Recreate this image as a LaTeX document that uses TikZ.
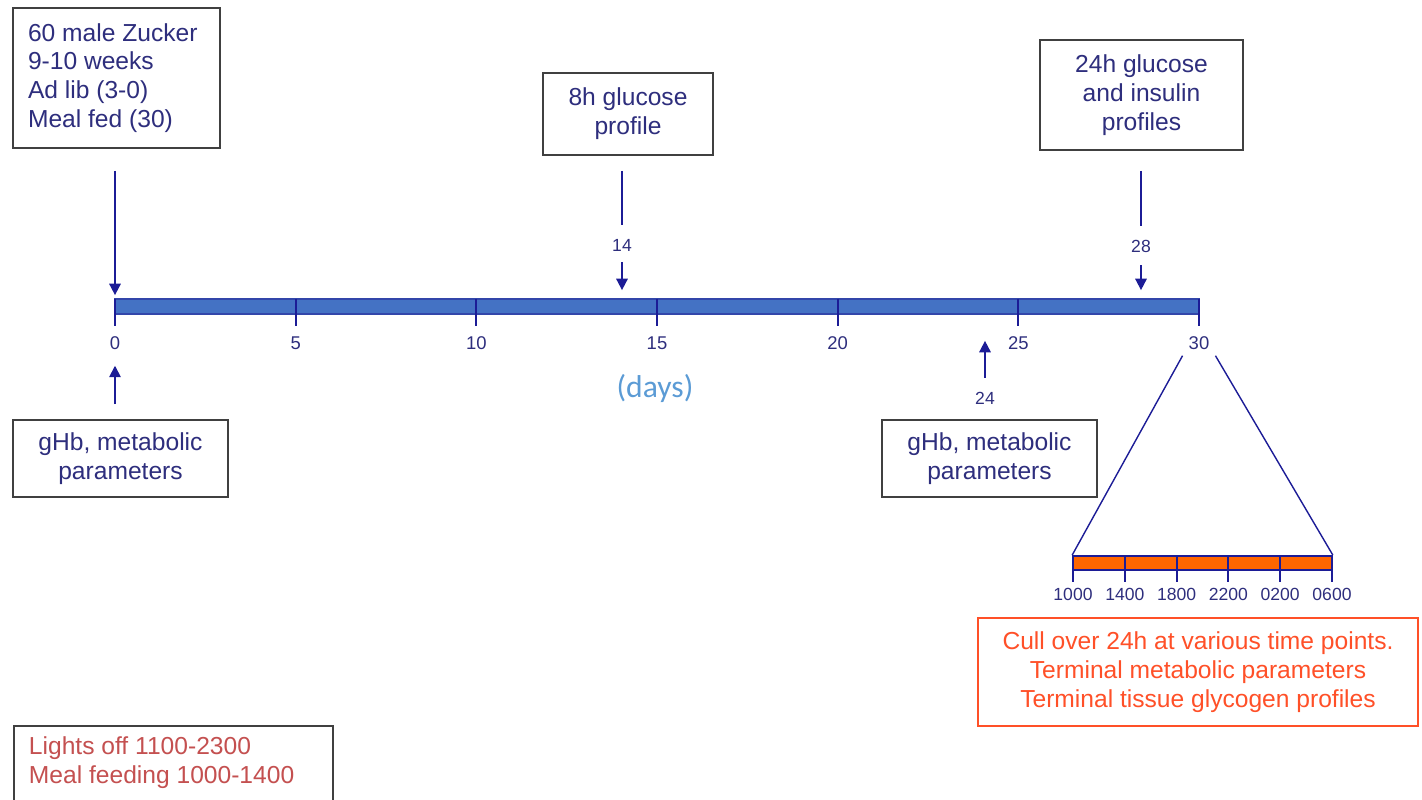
\documentclass[tikz,border=0pt]{standalone}
\usepackage{fontspec}
\setmainfont{Liberation Sans}
\newfontfamily\daysfont{Carlito}
\usetikzlibrary{arrows.meta}
\definecolor{navytext}{RGB}{46,46,125}
\definecolor{navyline}{RGB}{28,28,150}
\definecolor{boxgray}{RGB}{64,64,64}
\definecolor{barblue}{RGB}{68,114,196}
\definecolor{barnavy}{RGB}{50,70,170}
\definecolor{daysblue}{RGB}{91,155,213}
\definecolor{barorange}{RGB}{255,102,0}
\definecolor{cullred}{RGB}{255,80,40}
\definecolor{lightsred}{RGB}{196,80,80}
\begin{document}
\begin{tikzpicture}[
    x=0.02cm, y=-0.02cm,
    box/.style={draw=boxgray, line width=1.1pt, fill=white, text=navytext, align=center,
      inner sep=0pt, font=\fontsize{14}{16.4}\selectfont},
    notebox/.style={box, text=lightsred, align=flush left, inner xsep=0.3cm, inner ysep=6pt},
    cullbox/.style={box, draw=cullred, text=cullred, line width=0.9pt},
    timebar/.style={draw=barnavy, fill=barblue, line width=1pt, inner sep=0pt, minimum height=0.3cm},
    hourbar/.style={draw=navyline, fill=barorange, line width=1pt, inner sep=0pt, minimum height=0.28cm},
    tick/.style={draw=navyline, line width=1.1pt},
    daylbl/.style={text=navytext, font=\fontsize{10.5}{12}\selectfont},
    arr/.style={draw=navyline, line width=1pt, -{Triangle[width=6.5pt,length=6.5pt]}},
    stem/.style={draw=navyline, line width=1pt},
    fan/.style={draw=navyline, line width=0.8pt}
    ]
    \useasboundingbox (0,0) rectangle (1422,800);
    \clip (0,0) rectangle (1422,800);

    % boxes above the time line
    \node[box, minimum width=4.14cm, minimum height=2.8cm, text width=3.54cm, align=flush left] (zucker) at (116.5,78)
      {60 male Zucker\\9-10 weeks\\Ad lib (3-0)\\Meal fed (30)};
    \node[box, minimum width=3.4cm, minimum height=1.64cm] (gluc8) at (628,114) {8h glucose\\profile};
    \node[box, minimum width=4.06cm, minimum height=2.2cm] (gluc24) at (1141.5,95) {24h glucose\\and insulin\\profiles};

    % time line in days
    \node[timebar, minimum width=21.68cm] (bar) at (657,306.5) {};
    \foreach \d in {0,5,...,30} {
      \draw[tick] ({115+36.133*\d},299) -- ++(0,27);
      \node[daylbl] (t\d) at ({115+36.133*\d},343) {\d};
    }
    \node[text=daysblue, font=\daysfont\fontsize{18}{20}\selectfont] (days) at (655,388) {(days)};

    \draw[arr, shorten <=0.44cm, shorten >=0.06cm] (t0 |- zucker.south) -- (t0 |- bar.north);

    \node[daylbl, font=\fontsize{10}{12}\selectfont] (l14) at (622,245) {14};
    \draw[stem, shorten <=0.3cm, shorten >=0.16cm] (l14 |- gluc8.south) -- (l14.north);
    \draw[arr, shorten <=0.1cm, shorten >=0.16cm] (l14.south) -- (l14 |- bar.north);

    \node[daylbl, font=\fontsize{10}{12}\selectfont] (l28) at (1141,246) {28};
    \draw[stem, shorten <=0.4cm, shorten >=0.16cm] (l28 |- gluc24.south) -- (l28.north);
    \draw[arr, shorten <=0.14cm, shorten >=0.16cm] (l28.south) -- (l28 |- bar.north);

    % boxes below the time line
    \node[box, minimum width=4.3cm, minimum height=1.54cm] (ghb0) at (120.5,458.5) {gHb, metabolic\\parameters};
    \node[box, minimum width=4.3cm, minimum height=1.54cm] (ghb24) at (989.5,458.5) {gHb, metabolic\\parameters};

    \draw[arr, shorten <=0.3cm, shorten >=0.2cm] (t0 |- ghb0.north) -- (t0.south);

    \node[daylbl, font=\fontsize{10}{12}\selectfont] (l24) at (985,398) {24};
    \draw[arr, shorten <=0.16cm, shorten >=0.52cm] (l24.north) -- (l24 |- bar.south);

    % last day over 24h
    \node[hourbar, minimum width=5.18cm] (obar) at (1202.5,563) {};
    \draw[fan] (t30.south west) -- (obar.north west);
    \draw[fan] (t30.south east) -- (obar.north east);
    \foreach \hr [count=\i from 0] in {1000,1400,1800,2200,0200,0600} {
      \draw[tick] ({1073+51.8*\i},556) -- ++(0,26);
      \node[daylbl, font=\fontsize{10}{12}\selectfont] (h\i) at ({1073+51.8*\i},594) {\hr};
    }

    \node[cullbox, minimum width=8.8cm, minimum height=2.16cm] (cull) at (1198,672)
      {Cull over 24h at various time points.\\Terminal metabolic parameters\\Terminal tissue glycogen profiles};

    \node[notebox, anchor=north west, text width=5.78cm] (lights) at (13,725)
      {Lights off 1100-2300\\Meal feeding 1000-1400\rule[-12mm]{0pt}{0pt}};
\end{tikzpicture}
\end{document}
